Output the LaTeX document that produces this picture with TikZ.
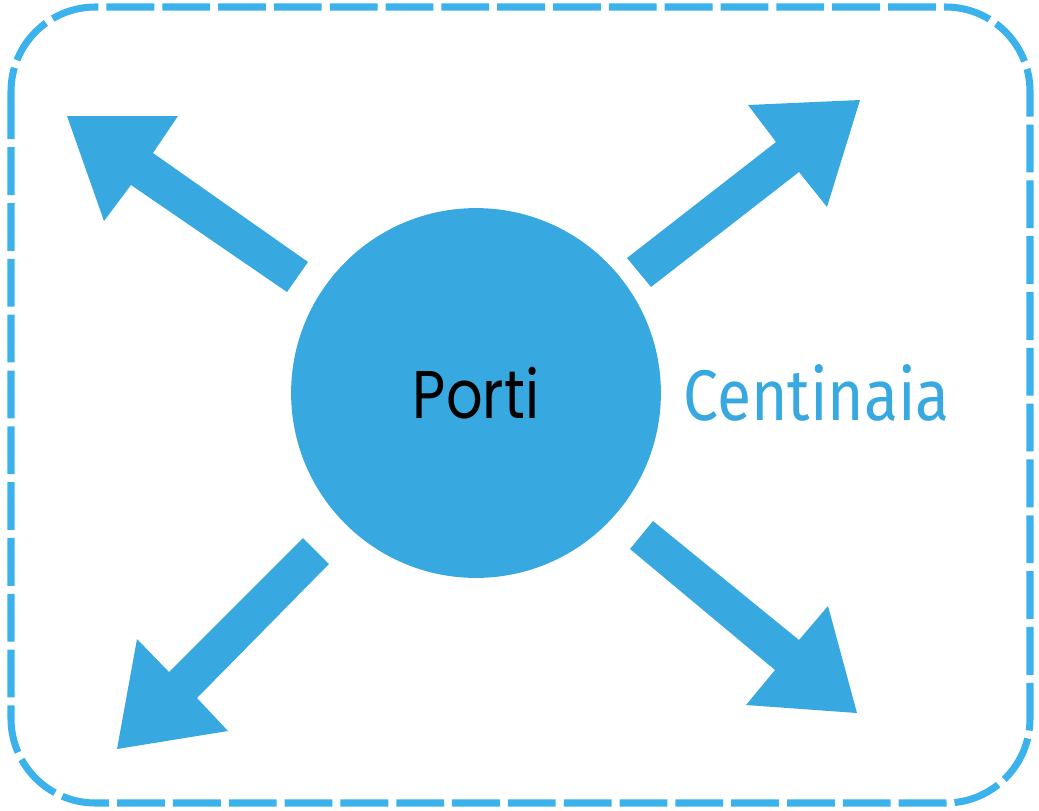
\documentclass[tikz,border=0pt]{standalone}
\usepackage{fontspec}
\setmainfont{Poppins}
\newfontfamily\portifont[FakeStretch=0.85]{Poppins}
\newfontfamily\thinfont[FakeStretch=0.87]{Fira Sans}
\usetikzlibrary{positioning}
\definecolor{portiblue}{RGB}{56,169,224}
\definecolor{edgeblue}{RGB}{60,178,236}
\tikzset{blockarrow/.style={fill=portiblue},
  frame/.style={draw=edgeblue,line width=5pt,dash pattern=on 34pt off 5.7pt,rounded corners=60pt}}

\begin{document}
\begin{tikzpicture}[x=0.025cm,y=-0.025cm]
      \useasboundingbox (0,0) rectangle (1039,810);
      \draw[frame] (11,7) rectangle (1030,803);

      \node[circle,fill=portiblue,minimum size=263pt,inner sep=0pt] (porti) at (476,393) {};
      \node[anchor=base,inner sep=0pt,font=\portifont\fontsize{48}{48}\selectfont] (portilabel) at (476,418) {Porti};
      \node[anchor=base west,inner sep=0pt,text=portiblue,font=\thinfont\fontsize{51}{51}\selectfont] (centinaia) at (683,420) {Centinaia};

      \fill[blockarrow] (308,262) -- (153,153) -- (178,116) -- (67,116) -- (104,221) -- (131,185) -- (287,292) -- cycle;
      \fill[blockarrow] (627,258) -- (776,142) -- (748,105) -- (860,100) -- (827,207) -- (799,172) -- (651,287) -- cycle;
      \fill[blockarrow] (303,538) -- (169,672) -- (137,639) -- (117,749) -- (228,731) -- (197,698) -- (329,564) -- cycle;
      \fill[blockarrow] (653,521) -- (799,640) -- (828,606) -- (857,713) -- (746,705) -- (775,670) -- (630,549) -- cycle;
    \end{tikzpicture}
\end{document}
